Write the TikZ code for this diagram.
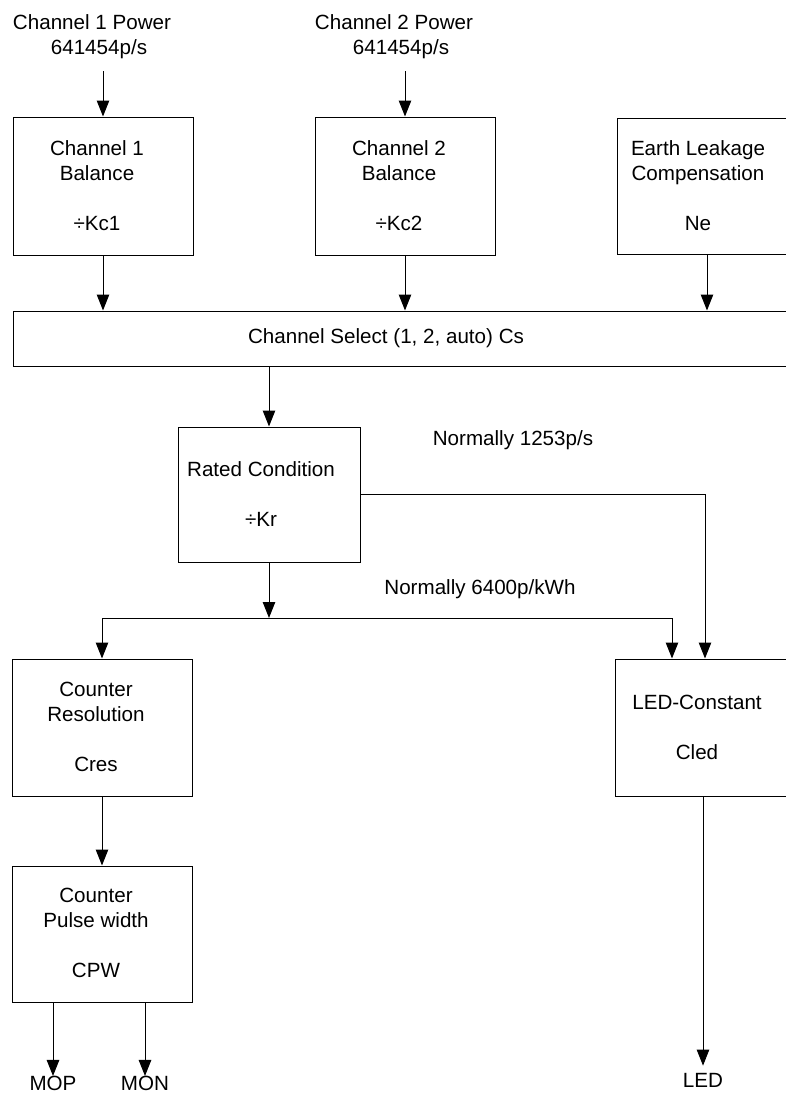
\documentclass[tikz,border=0pt]{standalone}
\usepackage{fontspec}
\setmainfont{Liberation Sans}
\usetikzlibrary{arrows.meta,calc}
\begin{document}
\begin{tikzpicture}[x=1pt,y=-1pt,
  every node/.style={font=\fontsize{20.6}{25}\selectfont, inner sep=0pt},
  box/.style={draw, line width=1pt, minimum width=180pt, inner sep=0pt},
  txt/.style={align=center},
  arr/.style={-{Triangle[length=16pt,width=12.5pt]}, line width=1pt},
  ln/.style={line width=1pt}]
\useasboundingbox (0,0) rectangle (785,1093);

% top inputs
\node[txt] (p1) at (92,37) {Channel 1 Power\\\hspace*{14pt}641454p/s};
\node[txt] (p2) at (394,37) {Channel 2 Power\\\hspace*{14pt}641454p/s};

% first row boxes
\node[box, minimum height=138pt] (b1) at (103,186) {};
\node[txt] (b1t) at (97,186) {Channel 1\\Balance\\[25pt]÷Kc1};
\node[box, minimum height=138pt] (b2) at (405,186) {};
\node[txt] (b2t) at (399,186) {Channel 2\\Balance\\[25pt]÷Kc2};
\node[box, minimum height=136pt] (b3) at (707,186) {};
\node[txt] (b3t) at (698,186) {Earth Leakage\\Compensation\\[25pt]Ne};

% channel select bar
\node[box, minimum width=784pt, minimum height=55pt] (cs) at (405,338.5) {};
\node (cst) at (386,338) {Channel Select (1, 2, auto) Cs};

% rated condition
\node[box, minimum width=182pt, minimum height=135pt] (rc) at (269,494.5) {};
\node[txt] (rct) at (261,494.5) {Rated Condition\\[25pt]÷Kr};

% lower boxes
\node[box, minimum height=137pt] (cr) at (102,727.5) {};
\node[txt] (crt) at (96,727) {Counter\\Resolution\\[25pt]Cres};
\node[box, minimum height=137pt] (led) at (705,727.5) {};
\node[txt] (ledbt) at (697,727) {LED-Constant\\[25pt]Cled};
\node[box, minimum height=136pt] (cpw) at (102,934) {};
\node[txt] (cpwt) at (96,933) {Counter\\Pulse width\\[25pt]CPW};

% annotations
\node (n1) at (513,440) {Normally 1253p/s};
\node (n2) at (480,589) {Normally 6400p/kWh};

% outputs
\node[anchor=base] (mop) at (53,1090.5) {MOP};
\node[anchor=base] (mon) at (145,1090.5) {MON};
\node[anchor=base] (ledo) at (703,1087) {LED};

\coordinate (br) at (269,618);

% connectors
\draw[arr, shorten <=12pt] (p1.south -| b1.north) -- (b1.north);
\draw[arr, shorten <=12pt] (p2.south -| b2.north) -- (b2.north);
\draw[arr] (b1.south) -- (b1.south |- cs.north);
\draw[arr] (b2.south) -- (b2.south |- cs.north);
\draw[arr] (b3.south) -- (b3.south |- cs.north);
\draw[arr] (cs.south -| rc.north) -- (rc.north);
\draw[arr] (rc.east) -| (led.north);
\draw[arr] (rc.south) -- (br);
\draw[arr] (br) -| (cr.north);
\draw[arr] (br) -| ([xshift=-33pt]led.north);
\draw[arr] (cr.south) -- (cpw.north);
\draw[arr] (cpw.south -| mop.north) -- (mop.north);
\draw[arr] (cpw.south -| mon.north) -- (mon.north);
\draw[arr, shorten >=7pt] (led.south -| ledo.north) -- (ledo.north);
\end{tikzpicture}
\end{document}
